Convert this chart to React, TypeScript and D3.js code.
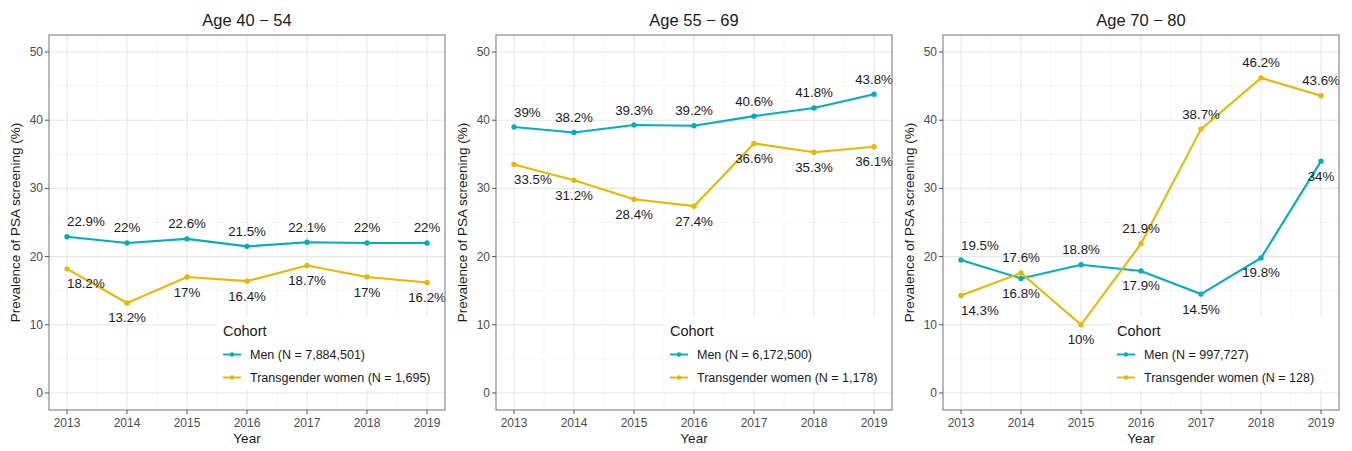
import React from "react";
import * as d3 from "d3";

const years = [2013, 2014, 2015, 2016, 2017, 2018, 2019];
const panelTitles = ["Age 40 \u2212 54", "Age 55 \u2212 69", "Age 70 \u2212 80"];
const menValues = [
  [22.9, 22, 22.6, 21.5, 22.1, 22, 22],
  [39, 38.2, 39.3, 39.2, 40.6, 41.8, 43.8],
  [19.5, 16.8, 18.8, 17.9, 14.5, 19.8, 34],
];
const twValues = [
  [18.2, 13.2, 17, 16.4, 18.7, 17, 16.2],
  [33.5, 31.2, 28.4, 27.4, 36.6, 35.3, 36.1],
  [14.3, 17.6, 10, 21.9, 38.7, 46.2, 43.6],
];
// -1 = label above the point, 1 = label below
const menLabelSide = [
  [-1, -1, -1, -1, -1, -1, -1],
  [-1, -1, -1, -1, -1, -1, -1],
  [-1, 1, -1, 1, 1, 1, 1],
];
const twLabelSide = [
  [1, 1, 1, 1, 1, 1, 1],
  [1, 1, 1, 1, 1, 1, 1],
  [1, -1, 1, -1, -1, -1, -1],
];
const menN = ["7,884,501", "6,172,500", "997,727"];
const twN = ["1,695", "1,178", "128"];
const yTicks = [0, 10, 20, 30, 40, 50];
const yMinor = [5, 15, 25, 35, 45];
const seriesNames = ["Men", "Transgender women"];
const colors = ["#00AFBB", "#E7B800"];

const W = 1352;
const H = 451;
const panelLefts = [49, 496, 943];
const panelW = 396;
const top = 35;
const bottom = 410;
const font = "'Liberation Sans', Arial, Helvetica, sans-serif";

function fmt(v: number) {
  return `${v}%`;
}

function Panel({ idx }: { idx: number }) {
  const left = panelLefts[idx];
  const right = left + panelW;
  const x = d3.scaleLinear().domain([2012.7, 2019.3]).range([left, right]);
  const y = d3.scaleLinear().domain([-2.5, 52.5]).range([bottom, top]);
  const line = d3
    .line<number>()
    .x((_, i) => x(years[i]))
    .y((d) => y(d));
  const xMinor = years.slice(0, -1).map((yr) => yr + 0.5);
  const series = [menValues[idx], twValues[idx]];
  const sides = [menLabelSide[idx], twLabelSide[idx]];
  const legendX = left + 174;
  const ns = [menN[idx], twN[idx]];
  return (
    <g>
      <rect x={left} y={top} width={panelW} height={bottom - top} fill="#fff" />
      {yMinor.map((t) => (
        <line key={"ym" + t} x1={left} x2={right} y1={y(t)} y2={y(t)} stroke="#f4f4f4" strokeWidth={0.8} />
      ))}
      {xMinor.map((t) => (
        <line key={"xm" + t} x1={x(t)} x2={x(t)} y1={top} y2={bottom} stroke="#f4f4f4" strokeWidth={0.8} />
      ))}
      {yTicks.map((t) => (
        <line key={"yM" + t} x1={left} x2={right} y1={y(t)} y2={y(t)} stroke="#e8e8e8" strokeWidth={1.1} />
      ))}
      {years.map((t) => (
        <line key={"xM" + t} x1={x(t)} x2={x(t)} y1={top} y2={bottom} stroke="#e8e8e8" strokeWidth={1.1} />
      ))}
      {/* legend box */}
      <rect x={legendX - 6} y={316} width={228} height={74} fill="#fff" />
      <text x={legendX} y={331} fontSize={14.5} fill="#1a1a1a" dominantBaseline="central" fontFamily={font}>
        Cohort
      </text>
      {seriesNames.map((nm, si) => {
        const ly = 354.5 + si * 23;
        return (
          <g key={nm}>
            <line x1={legendX} x2={legendX + 18} y1={ly} y2={ly} stroke={colors[si]} strokeWidth={1.9} />
            <circle cx={legendX + 9} cy={ly} r={2.3} fill={colors[si]} />
            <text x={legendX + 27} y={ly} fontSize={12.5} fill="#1a1a1a" dominantBaseline="central" fontFamily={font}>
              {`${nm} (N = ${ns[si]})`}
            </text>
          </g>
        );
      })}
      {series.map((vals, si) => (
        <g key={"s" + si}>
          <path d={line(vals) || ""} fill="none" stroke={colors[si]} strokeWidth={2.1} />
          {vals.map((v, i) => (
            <circle key={i} cx={x(years[i])} cy={y(v)} r={2.7} fill={colors[si]} />
          ))}
        </g>
      ))}
      {series.map((vals, si) =>
        vals.map((v, i) => {
          const side = sides[si][i];
          const ly = y(v) + (side < 0 ? -15 : 15);
          return (
            <text
              key={"l" + si + "-" + i}
              x={x(years[i])}
              y={ly}
              fontSize={13.3}
              fill="#1a1a1a"
              textAnchor={i === 0 ? "start" : "middle"}
              dominantBaseline="central"
              fontFamily={font}
            >
              {fmt(v)}
            </text>
          );
        })
      )}
      <rect x={left} y={top} width={panelW} height={bottom - top} fill="none" stroke="#8a8a8a" strokeWidth={1.2} />
      {yTicks.map((t) => (
        <g key={"yt" + t}>
          <line x1={left - 4} x2={left} y1={y(t)} y2={y(t)} stroke="#555" strokeWidth={1} />
          <text x={left - 6} y={y(t)} fontSize={12} fill="#4d4d4d" textAnchor="end" dominantBaseline="central" fontFamily={font}>
            {t}
          </text>
        </g>
      ))}
      {years.map((t) => (
        <g key={"xt" + t}>
          <line x1={x(t)} x2={x(t)} y1={bottom} y2={bottom + 4} stroke="#555" strokeWidth={1} />
          <text x={x(t)} y={423} fontSize={12} fill="#4d4d4d" textAnchor="middle" dominantBaseline="central" fontFamily={font}>
            {t}
          </text>
        </g>
      ))}
      <text x={(left + right) / 2} y={438} fontSize={13.5} fill="#1a1a1a" textAnchor="middle" dominantBaseline="central" fontFamily={font}>
        Year
      </text>
      <text
        transform={`translate(${left - 34},${(top + bottom) / 2}) rotate(-90)`}
        fontSize={13.5}
        fill="#1a1a1a"
        textAnchor="middle"
        dominantBaseline="central"
        fontFamily={font}
      >
        Prevalence of PSA screening (%)
      </text>
      <text x={(left + right) / 2} y={20} fontSize={16.5} fill="#1a1a1a" textAnchor="middle" dominantBaseline="central" fontFamily={font}>
        {panelTitles[idx]}
      </text>
    </g>
  );
}

export default function App() {
  return (
    <div style={{ position: "absolute", left: 0, top: 0 }}>
      <svg width={W} height={H} style={{ display: "block", background: "#fff" }}>
        {panelTitles.map((_, i) => (
          <Panel key={i} idx={i} />
        ))}
      </svg>
    </div>
  );
}
